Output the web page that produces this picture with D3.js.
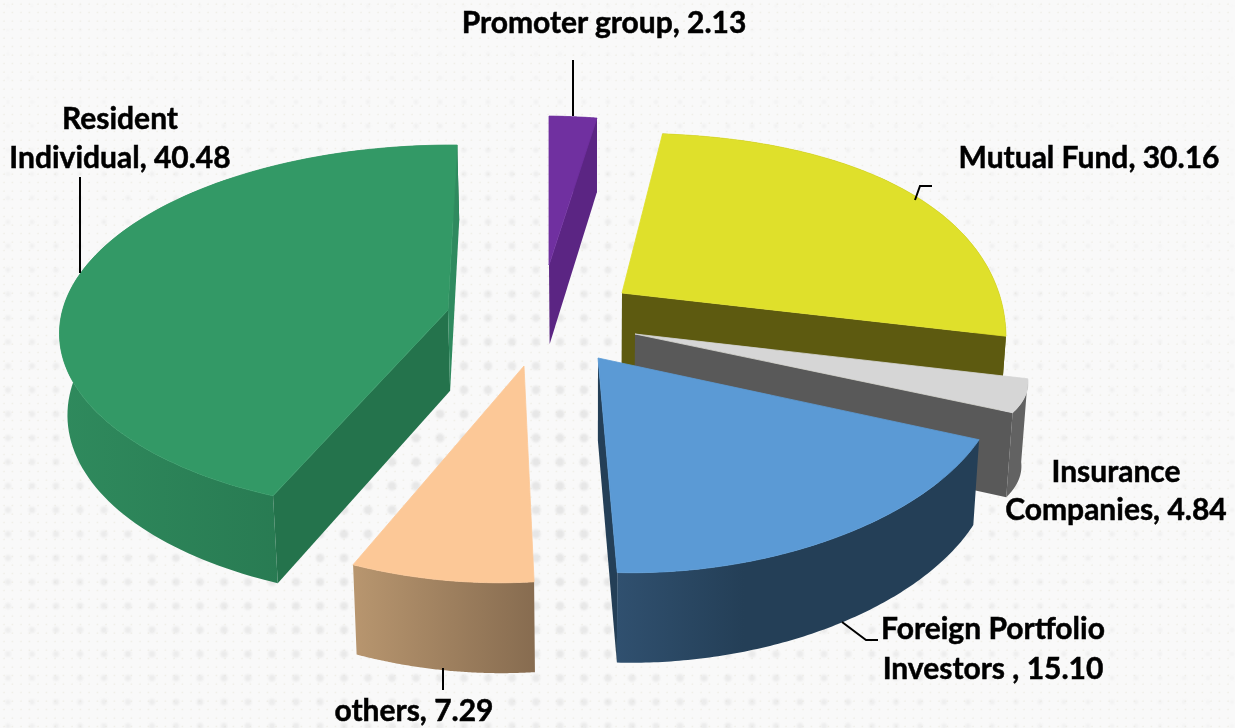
<!DOCTYPE html>
<html>
<head>
<meta charset="utf-8">
<script src="https://cdn.jsdelivr.net/npm/d3@7"></script>
<style>
body { margin: 0; background: #f9f9f9; }
svg { display: block; }
</style>
</head>
<body>
<svg id="chart" width="1235" height="728"></svg>
<script>
var categories = ["Promoter group", "Mutual Fund", "Insurance Companies", "Foreign Portfolio Investors", "others", "Resident Individual"];
var values = [2.13, 30.16, 4.84, 15.10, 7.29, 40.48];
var labelLines = [["Promoter group, 2.13"], ["Mutual Fund, 30.16"], ["Insurance", "Companies, 4.84"], ["Foreign Portfolio", "Investors , 15.10"], ["others, 7.29"], ["Resident", "Individual, 40.48"]];

// layout of the exploded slices, the angles come from d3.pie below
var tips = [[549, 265], [622, 293], [635, 334], [598, 358], [524, 366], [448, 310]];
var views = [
  [549, 265, 361.8, 0, 6, -150, -0.006, 0.007],
  [622, 293, 476, -3.4, -59.8, -230.3, 0.347, 0.442],
  [635, 334, 368.6, -116.8, -6.5, -111.7, 0.057, 0.176],
  [598, 358, 281.4, -52.8, -60.1, -137.5, -0.174, 0.354],
  [524, 366, 326.5, -55, -6.5, -190.3, 0.197, 0.096],
  [476.4, 333.3, 379.9, -18.6, -13.9, -182.6, 0.086, -0.03]
];

var topFill = ["#7030a0", "#dfe02b", "#d6d6d6", "#5b9ad5", "#fcc897", "#339966"];
var startFill = [null, null, null, null, null, "#24734c"];
var endFill = ["#5b2583", "#5d5a10", "#595959", "#243f57", null, "#2f8a5f"];
var wallStops = [
  ["#5b2583", "#5b2583"],
  ["#5d5a10", "#6a6a15"],
  ["#626262", "#626262"],
  ["#30506f", "#243f57"],
  ["#b8966f", "#876c50"],
  ["#2f8a5d", "#236f4a"]
];
var wallEnd = [1, 1, 1, 0.35, 1, 1];

var labelPos = [[604, 33], [1089, 168], [1116, 482], [993, 639], [414, 721], [120, 129]];
var labelGap = [0, 0, 38, 40, 0, 39];
var leaders = [
  [[573, 60], [573, 116]],
  [[915, 200], [920, 186], [932, 186]],
  [],
  [[842, 622], [866, 640], [878, 640]],
  [[443, 668], [443, 690]],
  [[80, 177], [80, 273]]
];

var arcs = d3.pie().sort(null).value(function (d) { return d; })(values);

// angle on the pie to a point on the slice's top face
function proj(p, ang) {
  var S = Math.sin(ang), C = Math.cos(ang);
  var w = 1 + p[6] * S + p[7] * C;
  return [p[0] + (p[2] * S + p[3] * C) / w, p[1] + (p[4] * S + p[5] * C) / w];
}

// the wall drops a bit further towards the viewer and leans to the middle
function bottom(q) {
  return [590 + (q[0] - 590) * 0.985, q[1] + 70 + 0.035 * q[1]];
}

var svg = d3.select("#chart");
var defs = svg.append("defs");
var line = d3.line();

var fine = defs.append("pattern")
  .attr("id", "fine")
  .attr("patternUnits", "userSpaceOnUse")
  .attr("width", 8.5)
  .attr("height", 8.5);
fine.append("circle").attr("cx", 4).attr("cy", 4).attr("r", 0.8).attr("fill", "#ecebe2");
defs.append("filter").attr("id", "soft").append("feGaussianBlur").attr("stdDeviation", 0.9);

// page background, halftone dots fading out from the middle
svg.append("rect").attr("width", 1235).attr("height", 728).attr("fill", "#f9f9f9");
svg.append("rect").attr("width", 1235).attr("height", 728).attr("fill", "url(#fine)");
var grid = [];
d3.range(8, 1235, 24).forEach(function (x) {
  d3.range(6, 728, 24).forEach(function (y) {
    var dx = (x - 500) / 480, dy = (y - 500) / 270;
    grid.push({ x: x, y: y, k: Math.exp(-(dx * dx + dy * dy) / 2) });
  });
});
svg.append("g").attr("filter", "url(#soft)")
  .selectAll("circle").data(grid).enter().append("circle")
  .attr("cx", function (d) { return d.x; })
  .attr("cy", function (d) { return d.y; })
  .attr("r", function (d) { return 1 + 3.5 * d.k; })
  .attr("fill", "#dcdcdc")
  .attr("opacity", function (d) { return 0.1 + 0.55 * d.k; });

// slices, back to front
arcs.forEach(function (a, i) {
  var p = views[i];
  var apex = tips[i];
  var rimPts = d3.range(0, 101).map(function (k) {
    return proj(p, a.startAngle + (a.endAngle - a.startAngle) * k / 100);
  });
  var xs = d3.extent(rimPts, function (d) { return d[0]; });

  var grad = defs.append("linearGradient")
    .attr("id", "wall" + i)
    .attr("gradientUnits", "userSpaceOnUse")
    .attr("x1", xs[0]).attr("x2", xs[1])
    .attr("y1", 0).attr("y2", 0);
  grad.append("stop").attr("offset", 0).attr("stop-color", wallStops[i][0]);
  grad.append("stop").attr("offset", wallEnd[i]).attr("stop-color", wallStops[i][1]);

  var g = svg.append("g").attr("class", "slice").datum(categories[i]);
  g.append("path")
    .attr("d", line(rimPts.concat(rimPts.map(bottom).reverse())) + "Z")
    .attr("fill", "url(#wall" + i + ")");
  if (startFill[i]) {
    g.append("path")
      .attr("d", line([apex, rimPts[0], bottom(rimPts[0]), bottom(apex)]) + "Z")
      .attr("fill", startFill[i]);
  }
  if (endFill[i]) {
    g.append("path")
      .attr("d", line([apex, rimPts[100], bottom(rimPts[100]), bottom(apex)]) + "Z")
      .attr("fill", endFill[i]);
  }
  g.append("path")
    .attr("d", line([apex].concat(rimPts)) + "Z")
    .attr("fill", topFill[i])
    .attr("stroke", topFill[i])
    .attr("stroke-width", 0.8);
});

leaders.forEach(function (l) {
  if (l.length) {
    svg.append("path")
      .attr("d", line(l))
      .attr("fill", "none")
      .attr("stroke", "#000")
      .attr("stroke-width", 2);
  }
});

labelLines.forEach(function (ls, i) {
  ls.forEach(function (t, k) {
    svg.append("text")
      .attr("x", labelPos[i][0])
      .attr("y", labelPos[i][1] + k * labelGap[i])
      .attr("text-anchor", "middle")
      .attr("fill", "#000")
      .attr("stroke", "#000")
      .attr("stroke-width", 0.5)
      .style("font", "bold 30px Lato")
      .text(t);
  });
});
</script>
</body>
</html>
